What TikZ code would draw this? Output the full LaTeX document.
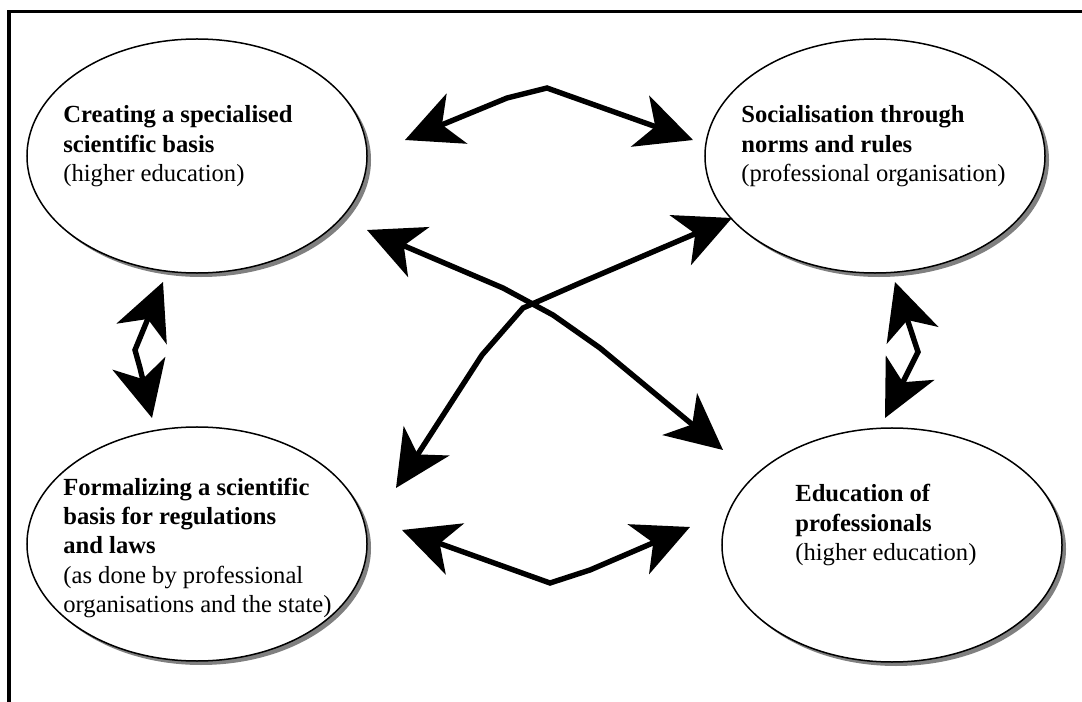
\documentclass[tikz,border=0pt]{standalone}
\usepackage{fontspec}
\setmainfont{Liberation Serif}
\usetikzlibrary{arrows.meta,shapes.geometric,shadows}

\tikzset{
  bubble/.style={ellipse, draw=black, line width=0.75bp, fill=white,
    minimum width=170bp, minimum height=117bp, inner sep=0pt,
    drop shadow={shadow xshift=2bp, shadow yshift=-2bp, fill=black!50, opacity=1}},
  label/.style={anchor=base west, inner sep=0pt,
    font=\fontsize{12.35pt}{14.8pt}\selectfont},
  link/.style={line width=2.7bp, line join=miter,
    {Stealth[length=28bp, width=27bp, inset=8bp]}-{Stealth[length=28bp, width=27bp, inset=8bp]}},
  frame/.style={line width=1.5bp}
}

\begin{document}
\begin{tikzpicture}[x=0.5bp, y=-0.5bp]
  \useasboundingbox (0,0) rectangle (1082,702);

  % open frame: top and left rules
  \coordinate (fl) at (9,702);
  \coordinate (fc) at (9,12);
  \coordinate (fr) at (1082,12);
  \draw[frame] (fl) -- (fc) -- (fr);

  % the four fields
  \node[bubble] (science) at (197,156) {};
  \node[bubble] (social)  at (875,156) {};
  \node[bubble] (formal)  at (197,544) {};
  \node[bubble] (educ)    at (892,545) {};

  \node[label] (scienceT) at (63,123) {\begin{tabular}[t]{@{}l@{}}
    \textbf{Creating a specialised}\\ \textbf{scientific basis}\\ (higher education)\end{tabular}};
  \node[label] (socialT) at (741,123) {\begin{tabular}[t]{@{}l@{}}
    \textbf{Socialisation through}\\ \textbf{norms and rules}\\ (professional organisation)\end{tabular}};
  \node[label] (formalT) at (63,495) {\begin{tabular}[t]{@{}l@{}}
    \textbf{Formalizing a scientific}\\ \textbf{basis for regulations}\\ \textbf{and laws}\\
    (as done by professional\\ organisations and the state)\end{tabular}};
  \node[label] (educT) at (795,502) {\begin{tabular}[t]{@{}l@{}}
    \textbf{Education of}\\ \textbf{professionals}\\ (higher education)\end{tabular}};

  % arrow end points and bends
  \coordinate (t1) at (405,140);  \coordinate (t2) at (507,98);
  \coordinate (t3) at (547,88);   \coordinate (t4) at (693,140);

  \coordinate (b1) at (402,530);  \coordinate (b2) at (550,583);
  \coordinate (b3) at (590,570);  \coordinate (b4) at (690,527);

  \coordinate (c1) at (367,230);  \coordinate (c2) at (503,288);
  \coordinate (c3) at (553,315);  \coordinate (c4) at (600,348);
  \coordinate (c5) at (723,450);

  \coordinate (d1) at (396,488);  \coordinate (d2) at (482,355);
  \coordinate (d3) at (523,308);  \coordinate (d4) at (580,283);
  \coordinate (d5) at (732,218);

  \coordinate (l1) at (163,282);  \coordinate (l2) at (135,350);
  \coordinate (l3) at (140,368);  \coordinate (l4) at (152,418);

  \coordinate (r1) at (895,282);  \coordinate (r2) at (918,352);
  \coordinate (r3) at (885,418);

  \draw[link] (t1) -- (t2) -- (t3) -- (t4);
  \draw[link] (b1) -- (b2) -- (b3) -- (b4);
  \draw[link] (c1) -- (c2) -- (c3) -- (c4) -- (c5);
  \draw[link] (d1) -- (d2) -- (d3) -- (d4) -- (d5);
  \draw[link] (l1) -- (l2) -- (l3) -- (l4);
  \draw[link] (r1) -- (r2) -- (r3);
\end{tikzpicture}
\end{document}
